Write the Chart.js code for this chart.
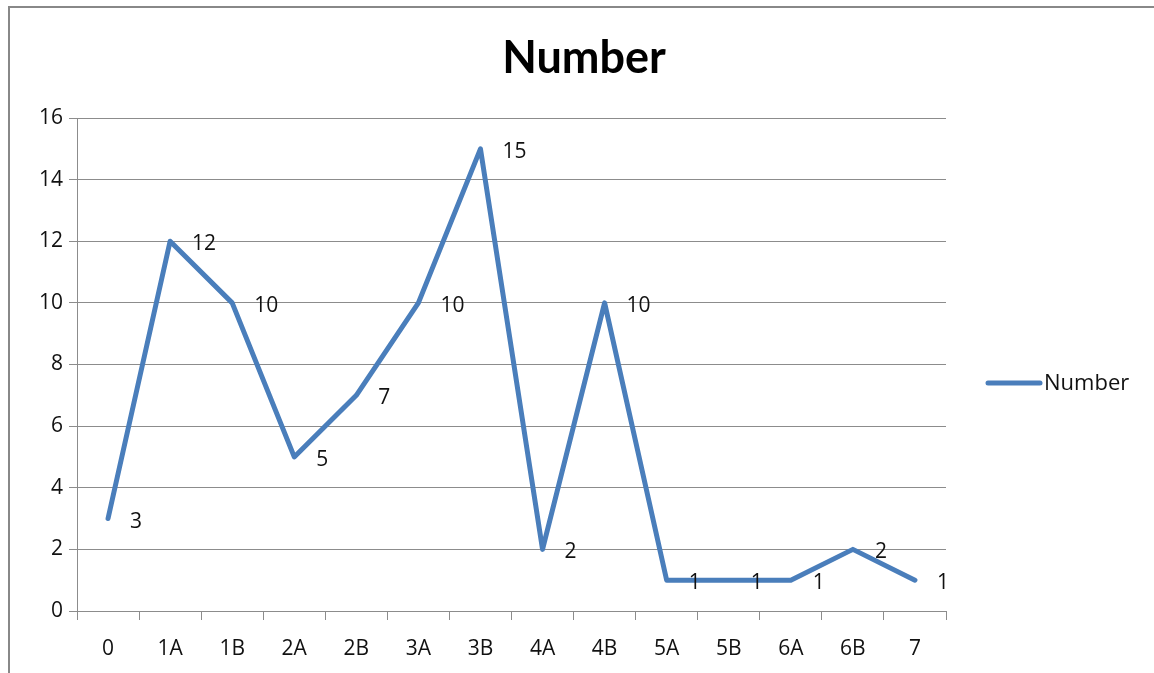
<!DOCTYPE html>
<html>
<head>
<meta charset="utf-8">
<title>Number</title>
<script src="https://cdn.jsdelivr.net/npm/chart.js@4.4.1/dist/chart.umd.min.js"></script>
<style>
  html, body { margin: 0; padding: 0; background: #ffffff; }
  #wrap { width: 1154px; height: 673px; position: relative; }
  canvas { display: block; }
</style>
</head>
<body>
<div id="wrap"><canvas id="chart" width="1154" height="673"></canvas></div>
<script>
// Stage labels along the category axis
const categories = ['0', '1A', '1B', '2A', '2B', '3A', '3B', '4A', '4B', '5A', '5B', '6A', '6B', '7'];
// Count for each stage
const numberValues = [3, 12, 10, 5, 7, 10, 15, 2, 10, 1, 1, 1, 2, 1];
// Value axis ticks
const yTicks = [0, 2, 4, 6, 8, 10, 12, 14, 16];

const seriesName = 'Number';
const lineColor = '#4A7EBB';
const gridColor = '#8C8C8C';
const textColor = '#111111';
const baseFont = "'Open Sans', 'Liberation Sans', sans-serif";

// Frame, title, point value labels and the legend entry
const decorations = {
  id: 'decorations',
  beforeDraw(chart) {
    const ctx = chart.ctx;
    ctx.save();
    ctx.fillStyle = '#ffffff';
    ctx.fillRect(0, 0, chart.width, chart.height);
    ctx.strokeStyle = '#888888';
    ctx.lineWidth = 2;
    ctx.beginPath();
    ctx.moveTo(9, chart.height + 5);
    ctx.lineTo(9, 7);
    ctx.lineTo(chart.width + 5, 7);
    ctx.stroke();

    // chart title, centred on the whole frame
    ctx.fillStyle = '#000000';
    ctx.font = "bold 45px Lato, 'Open Sans', sans-serif";
    ctx.textAlign = 'center';
    ctx.textBaseline = 'middle';
    ctx.fillText(seriesName, 584, 58);
    ctx.restore();
  },
  afterDatasetsDraw(chart) {
    const ctx = chart.ctx;
    const meta = chart.getDatasetMeta(0);
    const data = chart.data.datasets[0].data;
    ctx.save();
    ctx.font = '21px ' + baseFont;
    ctx.fillStyle = textColor;
    ctx.textAlign = 'left';
    ctx.textBaseline = 'middle';
    meta.data.forEach((pt, i) => {
      ctx.fillText(String(data[i]), pt.x + 22, pt.y + 3);
    });

    // legend entry to the right of the plot
    const ds = chart.data.datasets[0];
    const ly = 383;
    ctx.strokeStyle = ds.borderColor;
    ctx.lineWidth = 5;
    ctx.lineCap = 'round';
    ctx.beginPath();
    ctx.moveTo(988, ly);
    ctx.lineTo(1040, ly);
    ctx.stroke();
    ctx.font = '22px ' + baseFont;
    ctx.fillText(ds.label, 1044, ly + 1);
    ctx.restore();
  }
};

new Chart(document.getElementById('chart'), {
  type: 'line',
  data: {
    labels: categories,
    datasets: [{
      label: seriesName,
      data: numberValues,
      borderColor: lineColor,
      backgroundColor: lineColor,
      borderWidth: 5,
      borderJoinStyle: 'round',
      borderCapStyle: 'round',
      pointRadius: 0,
      tension: 0,
      fill: false
    }]
  },
  options: {
    responsive: false,
    animation: false,
    events: [],
    layout: { padding: { left: 14, right: 208, top: 118, bottom: 0 } },
    plugins: {
      legend: { display: false },
      tooltip: { enabled: false },
      title: { display: false }
    },
    scales: {
      x: {
        offset: true,
        grid: {
          offset: true,
          drawOnChartArea: false,
          drawTicks: true,
          tickLength: 9,
          color: gridColor,
          lineWidth: 1
        },
        border: { color: gridColor, width: 1 },
        ticks: {
          color: textColor,
          font: { family: baseFont, size: 21 },
          padding: 16,
          maxRotation: 0,
          autoSkip: false
        },
        afterFit(scale) { scale.height = 62; }
      },
      y: {
        min: 0,
        max: 16,
        afterBuildTicks(scale) { scale.ticks = yTicks.map(v => ({ value: v })); },
        grid: {
          color: gridColor,
          lineWidth: 1,
          drawTicks: true,
          tickLength: 8
        },
        border: { color: gridColor, width: 1 },
        ticks: {
          color: textColor,
          font: { family: baseFont, size: 21 },
          padding: 6
        },
        afterFit(scale) { scale.width = 63; }
      }
    }
  },
  plugins: [decorations]
});
</script>
</body>
</html>
